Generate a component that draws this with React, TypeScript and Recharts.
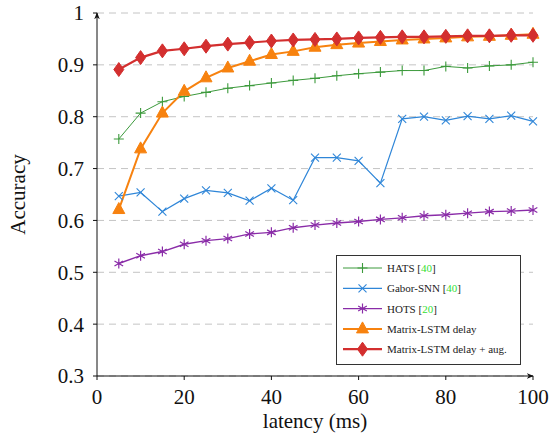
import React from 'react';
import {
  LineChart,
  Line,
  CartesianGrid,
  XAxis,
  YAxis,
  Legend,
  Label,
} from 'recharts';

const latency = [5, 10, 15, 20, 25, 30, 35, 40, 45, 50, 55, 60, 65, 70, 75, 80, 85, 90, 95, 100];

const hats = [0.757, 0.807, 0.829, 0.839, 0.847, 0.855, 0.86, 0.865, 0.87, 0.874, 0.879, 0.883, 0.886, 0.889, 0.889, 0.897, 0.894, 0.898, 0.9, 0.905];
const gaborSnn = [0.647, 0.654, 0.617, 0.642, 0.658, 0.653, 0.638, 0.662, 0.639, 0.721, 0.721, 0.715, 0.672, 0.796, 0.8, 0.793, 0.801, 0.796, 0.802, 0.791];
const hots = [0.517, 0.532, 0.54, 0.554, 0.561, 0.565, 0.574, 0.577, 0.586, 0.591, 0.595, 0.598, 0.602, 0.605, 0.609, 0.611, 0.614, 0.617, 0.618, 0.62];
const lstmDelay = [0.621, 0.738, 0.807, 0.849, 0.875, 0.894, 0.907, 0.92, 0.926, 0.934, 0.939, 0.942, 0.945, 0.948, 0.95, 0.952, 0.954, 0.955, 0.957, 0.959];
const lstmDelayAug = [0.891, 0.914, 0.927, 0.931, 0.936, 0.94, 0.943, 0.946, 0.948, 0.949, 0.95, 0.952, 0.953, 0.954, 0.954, 0.955, 0.956, 0.956, 0.957, 0.957];

const xTicks = [0, 20, 40, 60, 80, 100];
const yTicks = [0.3, 0.4, 0.5, 0.6, 0.7, 0.8, 0.9, 1];

const data = latency.map((t, i) => ({
  t,
  hats: hats[i],
  gabor: gaborSnn[i],
  hots: hots[i],
  lstm: lstmDelay[i],
  lstmAug: lstmDelayAug[i],
}));

const GREEN = '#3c9a3c';
const BLUE = '#2f86d8';
const PURPLE = '#8a2ca8';
const ORANGE = '#f7820f';
const RED = '#d32f2f';
const CITE = '#33e033';
const FONT = "'Liberation Serif', 'Times New Roman', Times, serif";

type Shape = 'plus' | 'cross' | 'asterisk' | 'triangle' | 'diamond';

const Marker = ({ shape, x, y, color }: { shape: Shape; x: number; y: number; color: string }) => {
  if (shape === 'plus') {
    return (
      <path d={`M${x - 5},${y}H${x + 5}M${x},${y - 5}V${y + 5}`} stroke={color} strokeWidth={1.1} fill="none" />
    );
  }
  if (shape === 'cross') {
    return (
      <path d={`M${x - 4},${y - 4}L${x + 4},${y + 4}M${x - 4},${y + 4}L${x + 4},${y - 4}`} stroke={color} strokeWidth={1.1} fill="none" />
    );
  }
  if (shape === 'asterisk') {
    const a = 5 * Math.cos(Math.PI / 6);
    const b = 5 * Math.sin(Math.PI / 6);
    return (
      <path
        d={`M${x},${y - 5}V${y + 5}M${x - a},${y - b}L${x + a},${y + b}M${x - a},${y + b}L${x + a},${y - b}`}
        stroke={color}
        strokeWidth={1.2}
        fill="none"
      />
    );
  }
  if (shape === 'triangle') {
    return <path d={`M${x},${y - 7}L${x + 6},${y + 4}L${x - 6},${y + 4}Z`} fill={color} stroke={color} />;
  }
  return <path d={`M${x},${y - 7}L${x + 5},${y}L${x},${y + 7}L${x - 5},${y}Z`} fill={color} stroke={color} />;
};

const dotFor = (shape: Shape, color: string) => (props: any) => {
  const { cx, cy, index } = props;
  return <Marker key={`${shape}-${index}`} shape={shape} x={cx} y={cy} color={color} />;
};

const legendItems: { name: string; cite?: string; shape: Shape; color: string; width: number }[] = [
  { name: 'HATS', cite: '40', shape: 'plus', color: GREEN, width: 1 },
  { name: 'Gabor-SNN', cite: '40', shape: 'cross', color: BLUE, width: 1.2 },
  { name: 'HOTS', cite: '20', shape: 'asterisk', color: PURPLE, width: 1.4 },
  { name: 'Matrix-LSTM delay', shape: 'triangle', color: ORANGE, width: 2 },
  { name: 'Matrix-LSTM delay + aug.', shape: 'diamond', color: RED, width: 2.2 },
];

const renderLegend = () => (
  <svg width={186} height={111} style={{ display: 'block' }}>
    <rect x={0.5} y={0.5} width={184} height={109} fill="#fff" stroke="#333" strokeWidth={1} />
    {legendItems.map((it, i) => {
      const y = 13 + i * 20.3;
      return (
        <g key={it.name}>
          <line x1={7} x2={46} y1={y} y2={y} stroke={it.color} strokeWidth={it.width} />
          <Marker shape={it.shape} x={26.5} y={y} color={it.color} />
          <text x={51} y={y + 4} fontSize={11} style={{ fontFamily: FONT }} fill="#222">
            {it.name}
            {it.cite && (
              <>
                {' ['}
                <tspan fill={CITE}>{it.cite}</tspan>
                {']'}
              </>
            )}
          </text>
        </g>
      );
    })}
  </svg>
);

const YTitle = (props: any) => {
  const { viewBox } = props;
  const cy = viewBox.y + viewBox.height / 2;
  return (
    <text
      x={18}
      y={cy}
      transform={`rotate(-90, 18, ${cy})`}
      textAnchor="middle"
      dominantBaseline="central"
      fontSize={21}
      style={{ fontFamily: FONT }}
      fill="#111"
    >
      Accuracy
    </text>
  );
};

export default function App() {
  const tickStyle = { fontSize: 21, fontFamily: FONT, fill: '#111' };
  return (
    <div style={{ position: 'absolute', left: 0, top: 0, fontFamily: FONT }}>
      <LineChart width={554} height={437} data={data} margin={{ top: 13, right: 21, bottom: 0, left: 0 }} style={{ fontFamily: FONT }}>
        <defs>
          <marker id="arrowHead" viewBox="0 0 10 10" refX="9" refY="5" markerWidth="7" markerHeight="7" orient="auto-start-reverse">
            <path d="M0,1 L10,5 L0,9 L3,5 Z" fill="#111" />
          </marker>
        </defs>
        <CartesianGrid vertical={false} stroke="#c4c4c4" strokeDasharray="7 5" />
        <XAxis
          dataKey="t"
          type="number"
          domain={[0, 100]}
          ticks={xTicks}
          tick={tickStyle}
          tickSize={4}
          tickMargin={9}
          height={61}
          stroke="#111"
          axisLine={{ stroke: '#111', markerEnd: 'url(#arrowHead)' }}
        >
          <Label value="latency (ms)" position="insideBottom" offset={9} style={{ fontSize: 21, fontFamily: FONT, fill: '#111' }} />
        </XAxis>
        <YAxis
          type="number"
          domain={[0.3, 1]}
          ticks={yTicks}
          tickFormatter={(v: number) => (v === 1 ? '1' : v.toFixed(1))}
          tick={tickStyle}
          tickSize={4}
          tickMargin={9}
          width={97}
          stroke="#111"
          axisLine={{ stroke: '#111', markerStart: 'url(#arrowHead)' }}
        >
          <Label content={<YTitle />} />
        </YAxis>
        <Legend
          layout="vertical"
          align="center"
          verticalAlign="middle"
          content={renderLegend}
          wrapperStyle={{ position: 'absolute', left: 336, top: 255, width: 186, height: 111 }}
        />
        <Line dataKey="hats" name="HATS [40]" stroke={GREEN} strokeWidth={1} dot={dotFor('plus', GREEN)} isAnimationActive={false} />
        <Line dataKey="gabor" name="Gabor-SNN [40]" stroke={BLUE} strokeWidth={1.2} dot={dotFor('cross', BLUE)} isAnimationActive={false} />
        <Line dataKey="hots" name="HOTS [20]" stroke={PURPLE} strokeWidth={1.4} dot={dotFor('asterisk', PURPLE)} isAnimationActive={false} />
        <Line dataKey="lstm" name="Matrix-LSTM delay" stroke={ORANGE} strokeWidth={2} dot={dotFor('triangle', ORANGE)} isAnimationActive={false} />
        <Line dataKey="lstmAug" name="Matrix-LSTM delay + aug." stroke={RED} strokeWidth={2.2} dot={dotFor('diamond', RED)} isAnimationActive={false} />
      </LineChart>
    </div>
  );
}
